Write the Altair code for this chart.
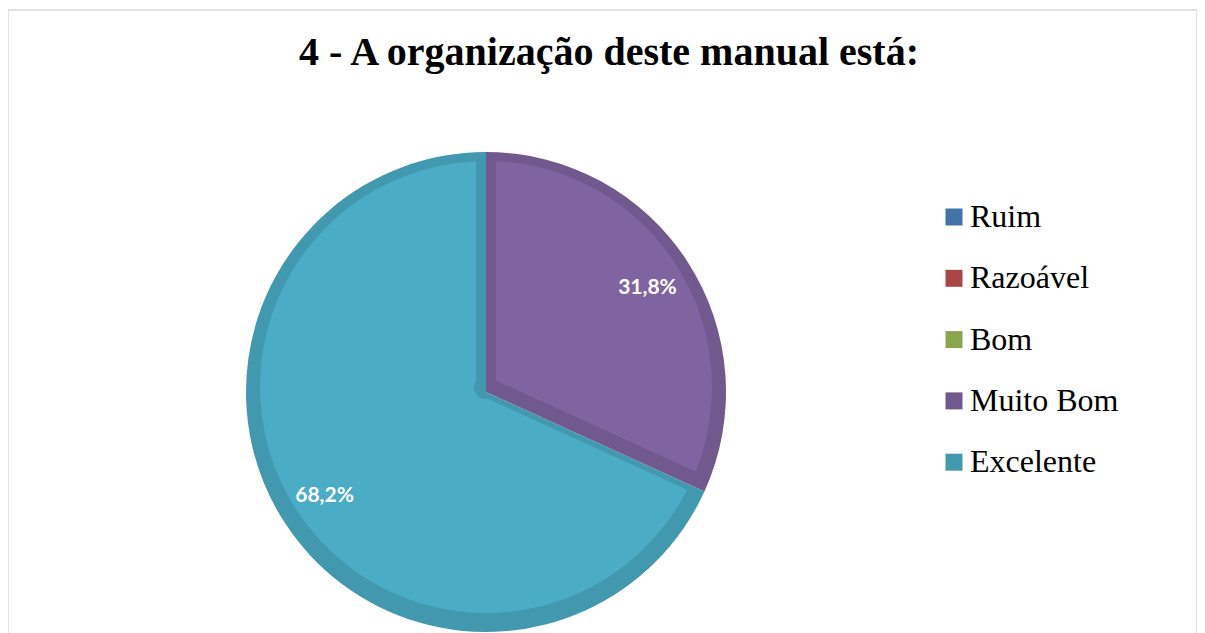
import altair as alt
import pandas as pd

title_text = "4 - A organização deste manual está:"
categories = ["Ruim", "Razoável", "Bom", "Muito Bom", "Excelente"]
values = [0, 0, 0, 31.8, 68.2]
legend_colors = ["#4572A7", "#AA4643", "#89A54E", "#71588F", "#4198AF"]
fill_colors = ["#4F81BD", "#C0504D", "#9BBB59", "#8064A2", "#4BACC6"]

df = pd.DataFrame({
    "category": categories,
    "value": values,
    "order": list(range(len(categories))),
    "label": [f"{v:.1f}%".replace(".", ",") for v in values],
})

base = alt.Chart(df).transform_filter("datum.value > 0")
theta = alt.Theta("value:Q", stack=True)
order = alt.Order("order:Q")

dark = base.mark_arc(radius=240).encode(
    theta=theta,
    order=order,
    color=alt.Color(
        "category:N",
        scale=alt.Scale(domain=categories, range=legend_colors),
        legend=alt.Legend(
            orient="none", legendX=930, legendY=191, title=None,
            symbolType="square", symbolSize=289, symbolStrokeWidth=0,
            labelFont="Liberation Serif", labelFontSize=32, labelColor="black",
            rowPadding=29.3, labelOffset=0, padding=0,
        ),
    ),
    x=alt.value(478), y=alt.value(382),
)

light = base.mark_arc(radius=226, innerRadius=12, padAngle=0.0884).encode(
    theta=theta,
    order=order,
    color=alt.Color(
        "category:N",
        scale=alt.Scale(domain=categories, range=fill_colors),
        legend=None,
    ),
    x=alt.value(478), y=alt.value(377),
)

labels = base.mark_text(
    radius=192, font="Lato", fontWeight="bold", fontSize=21, color="white"
).encode(
    theta=theta,
    order=order,
    text="label:N",
    x=alt.value(478), y=alt.value(382),
)

title = alt.Chart(pd.DataFrame({"t": [title_text]})).mark_text(
    font="Liberation Serif", fontWeight="bold", fontSize=40, color="black",
    baseline="alphabetic", align="center",
).encode(text="t:N", x=alt.value(601), y=alt.value(55))

chart = alt.layer(dark, light, labels, title).resolve_scale(
    color="independent"
).properties(
    width=1189, height=624,
    autosize=alt.AutoSizeParams(type="none"),
    padding={"left": 0, "top": 2, "right": 0, "bottom": 0},
).configure_view(stroke="#D9D9D9", strokeWidth=1.5)

chart.save("out.html", embed_options={"renderer": "svg", "actions": False})
